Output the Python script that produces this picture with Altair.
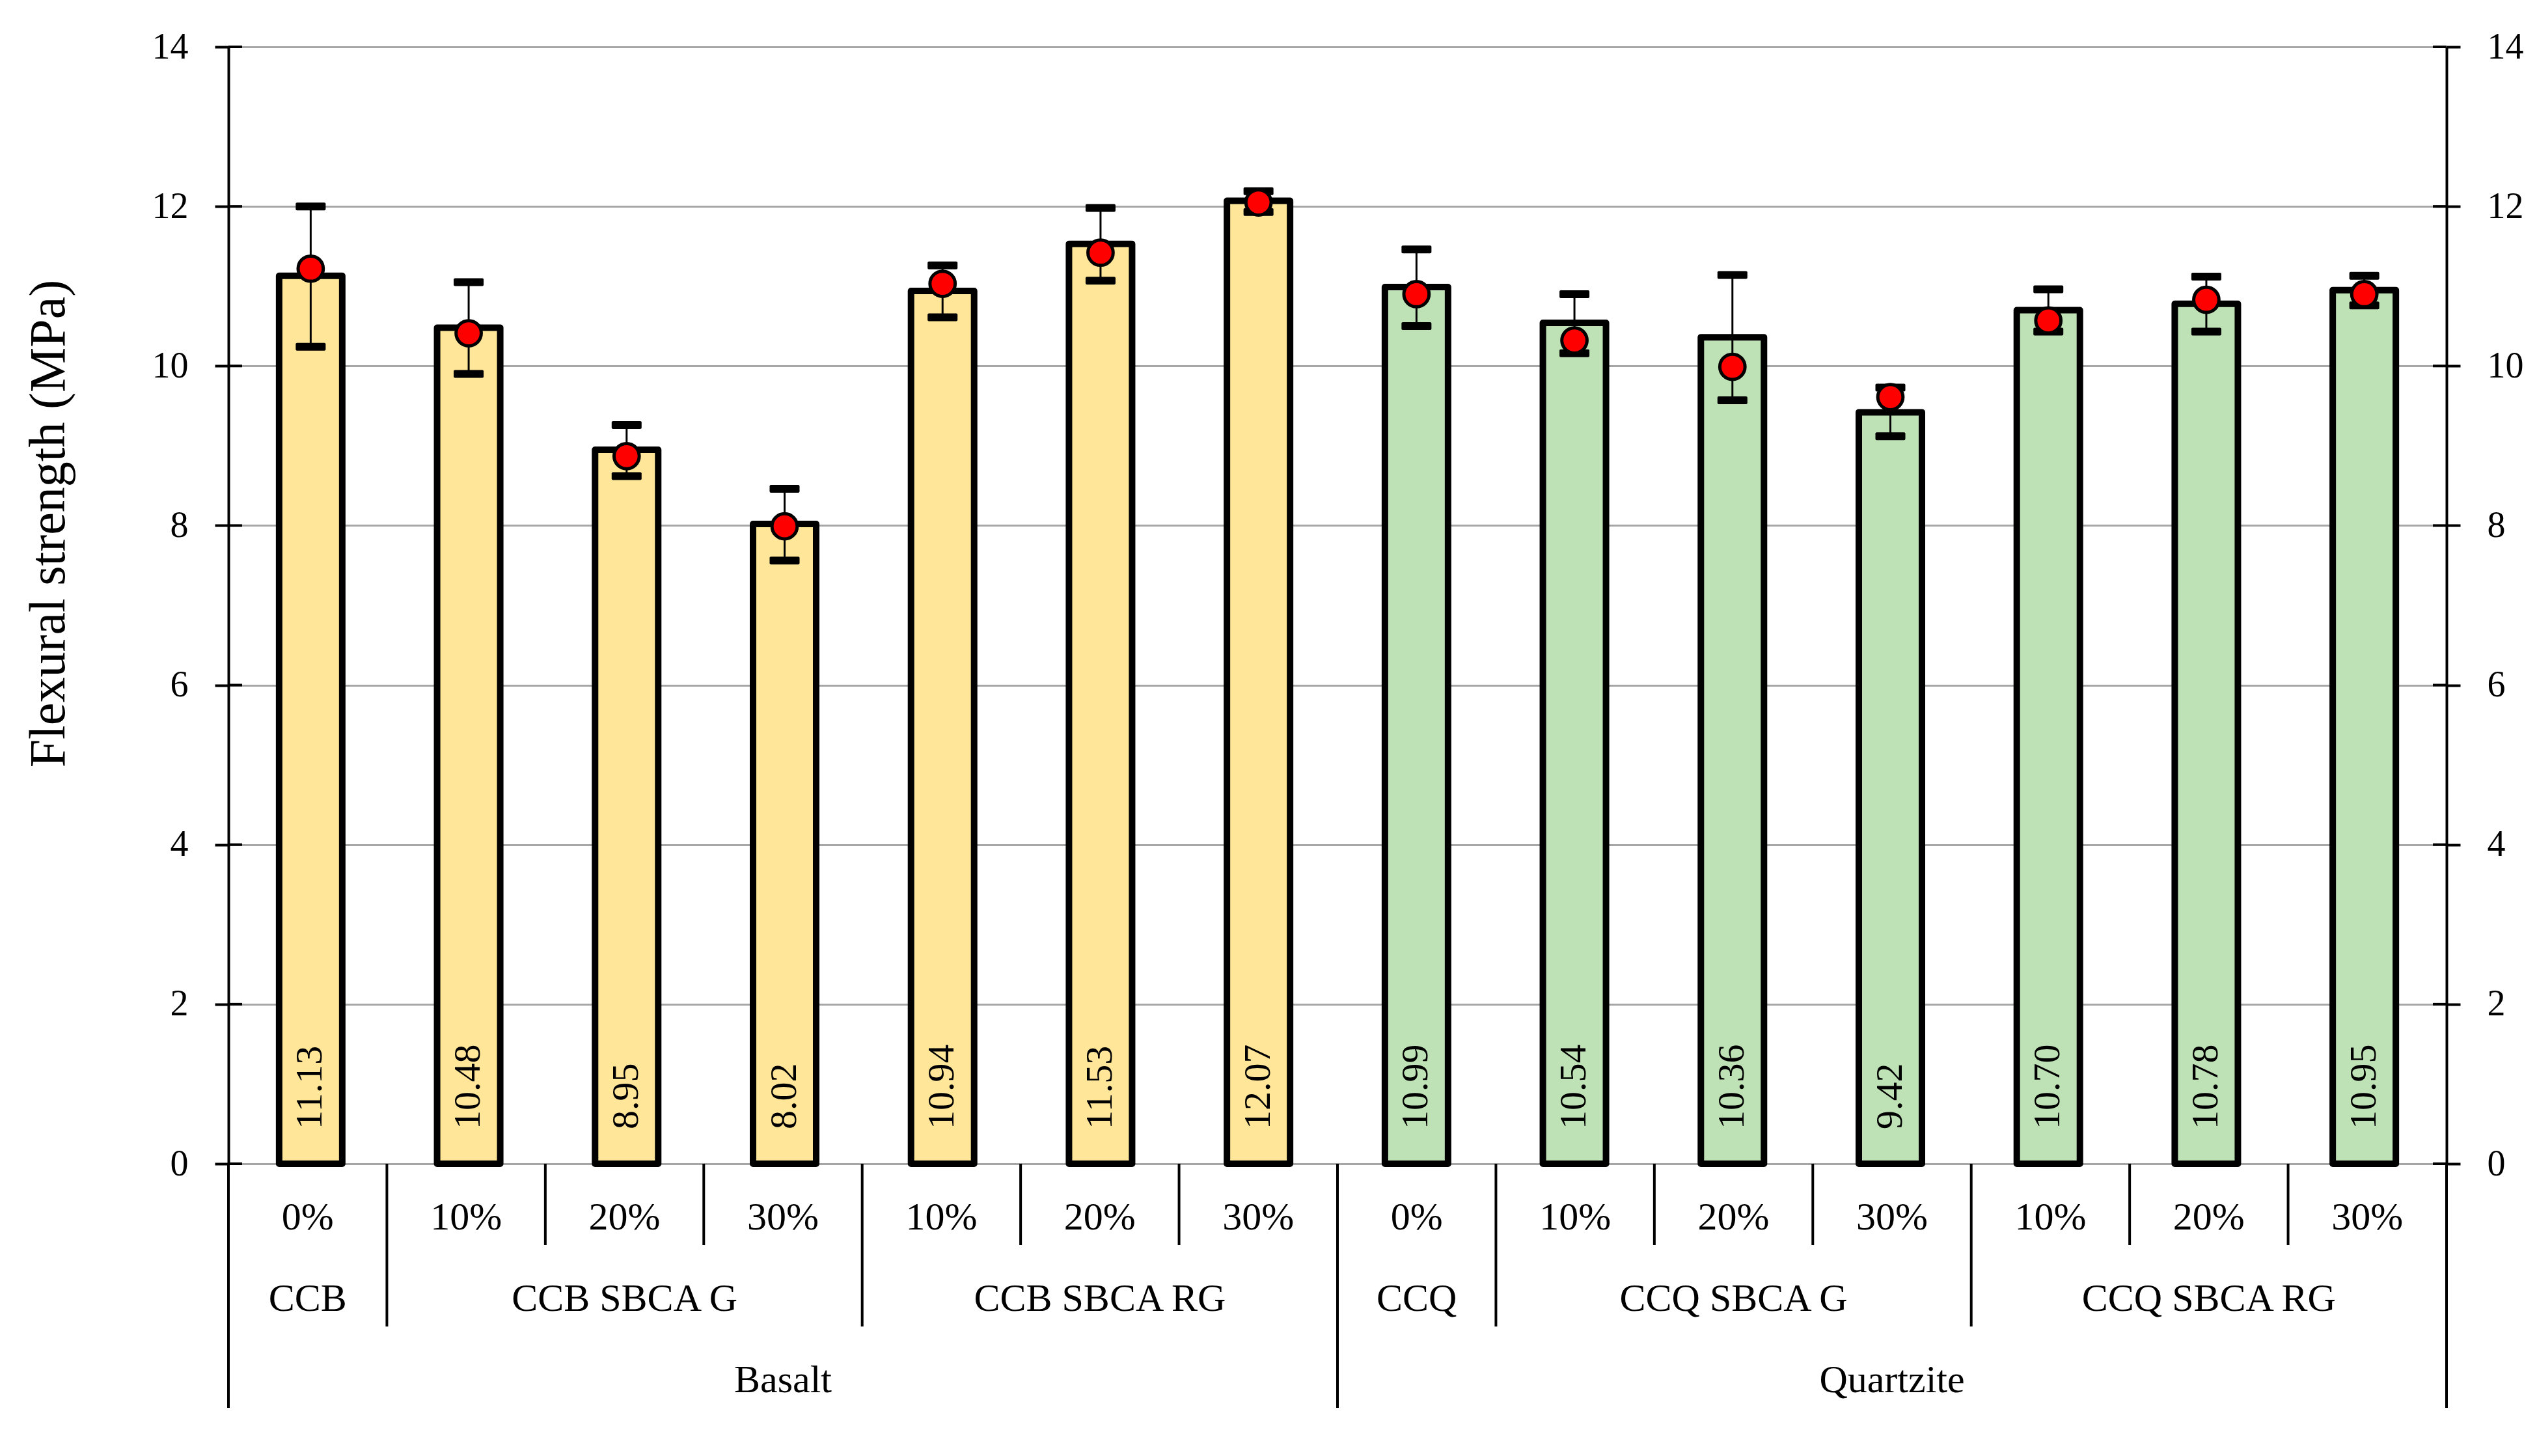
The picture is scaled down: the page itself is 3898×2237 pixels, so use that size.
import altair as alt
import pandas as pd

# ---------------- data ----------------
materials = ["Basalt"] * 7 + ["Quartzite"] * 7
groups = ["CCB", "CCB SBCA G", "CCB SBCA G", "CCB SBCA G",
          "CCB SBCA RG", "CCB SBCA RG", "CCB SBCA RG",
          "CCQ", "CCQ SBCA G", "CCQ SBCA G", "CCQ SBCA G",
          "CCQ SBCA RG", "CCQ SBCA RG", "CCQ SBCA RG"]
contents = ["0%", "10%", "20%", "30%", "10%", "20%", "30%",
            "0%", "10%", "20%", "30%", "10%", "20%", "30%"]
bar_values = [11.13, 10.48, 8.95, 8.02, 10.94, 11.53, 12.07,
              10.99, 10.54, 10.36, 9.42, 10.70, 10.78, 10.95]
mean_points = [11.22, 10.41, 8.87, 7.99, 11.03, 11.42, 12.05,
               10.90, 10.32, 9.99, 9.61, 10.57, 10.83, 10.90]
err_high = [12.00, 11.05, 9.26, 8.46, 11.26, 11.98, 12.19,
            11.46, 10.90, 11.14, 9.73, 10.96, 11.12, 11.13]
err_low = [10.24, 9.90, 8.62, 7.56, 10.61, 11.07, 11.93,
           10.50, 10.16, 9.57, 9.12, 10.43, 10.43, 10.76]
y_ticks = [0, 2, 4, 6, 8, 10, 12, 14]

df = pd.DataFrame({
    "idx": list(range(len(contents))),
    "material": materials,
    "group": groups,
    "content": contents,
    "bar": bar_values,
    "mean": mean_points,
    "hi": err_high,
    "lo": err_low,
})

# hierarchy separators: depth 3 at material change / ends, 2 at group change, 1 otherwise
n = len(contents)
b_pos, b_depth = [], []
for b in range(n + 1):
    if b == 0 or b == n or materials[b - 1] != materials[b]:
        d = 3
    elif groups[b - 1] != groups[b]:
        d = 2
    else:
        d = 1
    b_pos.append(b)
    b_depth.append(d)
bdf = pd.DataFrame({"b": b_pos, "depth": b_depth})
inner_bounds = [b for b, d in zip(b_pos, b_depth) if d < 3]
tick_df = pd.DataFrame({"t": y_ticks})

# ---------------- style ----------------
W, H, HB = 3408, 1716, 375
FONT = "Liberation Serif"
xs = alt.Scale(domain=[0, n], nice=False, zero=False)
ys = alt.Scale(domain=[0, 14], nice=False)

axis_common = dict(
    values=y_ticks, domainColor="black", domainWidth=4,
    tickColor="black", tickWidth=4, tickSize=21, labelPadding=41,
    labelFont=FONT, labelFontSize=56, labelColor="black",
)
left_axis = alt.Axis(
    orient="left", grid=True, gridColor="#A6A6A6", gridWidth=3,
    title="Flexural strength (MPa)", titleFont=FONT, titleFontSize=78,
    titleFontWeight="normal", titleColor="black", titleX=-253, titleY=732,
    titleAlign="center", titleBaseline="alphabetic", titleAngle=270,
    **axis_common)
right_axis = alt.Axis(orient="right", grid=False, title=None, **axis_common)

base = alt.Chart(df).transform_calculate(pos="datum.idx + 0.5")
X = alt.X("pos:Q", scale=xs, axis=None)

bars = base.mark_bar(size=97, stroke="black", strokeWidth=10,
                     strokeJoin="round").encode(
    x=alt.X("pos:Q", scale=xs,
            axis=alt.Axis(domain=True, domainColor="black", domainWidth=4,
                          ticks=False, labels=False, grid=False, title=None,
                          zindex=1)),
    y=alt.Y("bar:Q", scale=ys, axis=None),
    color=alt.Color("material:N",
                    scale=alt.Scale(domain=["Basalt", "Quartzite"],
                                    range=["#FFE699", "#BEE2B5"]),
                    legend=None),
)

err = base.mark_rule(color="black", strokeWidth=3).encode(
    x=X, y=alt.Y("lo:Q", scale=ys, axis=None), y2="hi:Q")

cap_hi = base.mark_tick(orient="horizontal", size=46, thickness=12,
                        color="black", opacity=1, cornerRadius=2).encode(
    x=X, y=alt.Y("hi:Q", scale=ys, axis=None))
cap_lo = base.mark_tick(orient="horizontal", size=46, thickness=12,
                        color="black", opacity=1, cornerRadius=2).encode(
    x=X, y=alt.Y("lo:Q", scale=ys, axis=None))

points = base.mark_circle(size=1500, color="#FF0000", stroke="black",
                          strokeWidth=5, opacity=1).encode(
    x=X, y=alt.Y("mean:Q", scale=ys, axis=None))

vlabels = base.mark_text(angle=270, align="left", baseline="middle", dx=53,
                         font=FONT, fontSize=58, color="black").encode(
    x=X, y=alt.YDatum(0, scale=ys, axis=None),
    text=alt.Text("bar:Q", format=".2f"))

ticks_left = alt.Chart(tick_df).mark_rule(color="black", strokeWidth=4).encode(
    x=alt.value(0), x2=alt.value(21),
    y=alt.Y("t:Q", scale=ys, axis=left_axis))
ticks_right = alt.Chart(tick_df).mark_rule(color="black", strokeWidth=4).encode(
    x=alt.value(W - 21), x2=alt.value(W),
    y=alt.Y("t:Q", scale=ys, axis=right_axis))

main = alt.layer(bars, err, cap_hi, cap_lo, points, vlabels,
                 ticks_left, ticks_right).resolve_axis(
    y="independent").properties(width=W, height=H)

# ---------------- multi-level category axis ----------------
bys = alt.Scale(domain=[0, 3], reverse=True, nice=False, zero=False)
lab = dict(font=FONT, fontSize=60, color="black", align="center",
           baseline="middle", dy=20)

seps = alt.Chart(bdf).mark_rule(color="black", strokeWidth=4).encode(
    x=alt.X("b:Q", scale=xs,
            axis=alt.Axis(orient="top", values=inner_bounds, domain=False,
                          labels=False, ticks=True, tickSize=21, tickWidth=4,
                          tickColor="black", grid=False, title=None)),
    y=alt.Y("depth:Q", scale=bys, axis=None),
    y2=alt.Y2Datum(0),
)

pct_text = base.mark_text(**lab).encode(
    x=X, y=alt.YDatum(0.5, scale=bys, axis=None), text="content:N")
grp_text = base.transform_aggregate(
    pos="mean(pos)", groupby=["group"]).mark_text(**lab).encode(
    x=X, y=alt.YDatum(1.5, scale=bys, axis=None), text="group:N")
mat_text = base.transform_aggregate(
    pos="mean(pos)", groupby=["material"]).mark_text(**lab).encode(
    x=X, y=alt.YDatum(2.5, scale=bys, axis=None), text="material:N")

bottom = alt.layer(seps, pct_text, grp_text, mat_text).properties(
    width=W, height=HB)

chart = alt.vconcat(main, bottom, spacing=0, bounds="flush").resolve_scale(
    x="independent", y="independent").properties(
    padding={"left": 28, "top": 36, "right": 5, "bottom": 5},
    background="white").configure_view(stroke=None)

chart.save("out.html", embed_options={"renderer": "svg", "actions": False})
